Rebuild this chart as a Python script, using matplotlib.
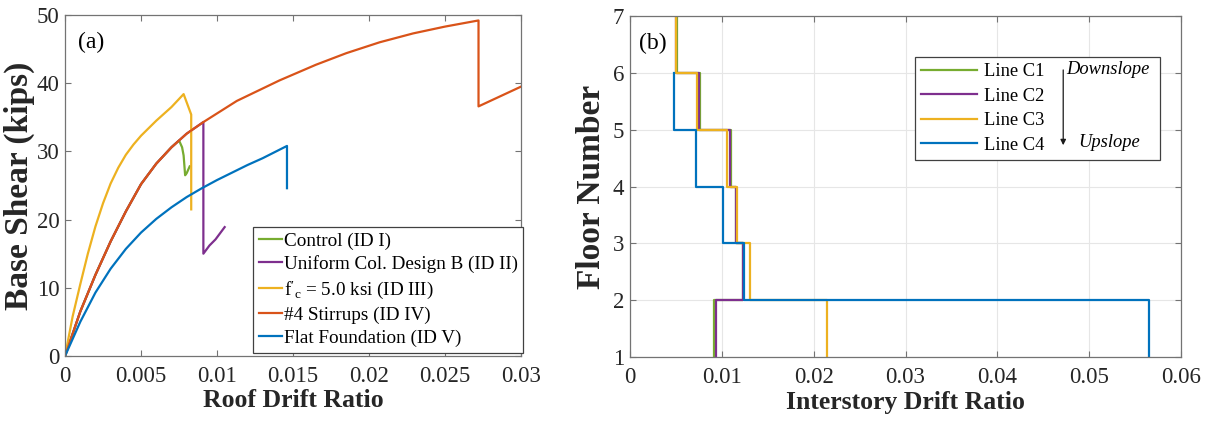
import matplotlib
matplotlib.use('Agg')
import matplotlib.pyplot as plt
import numpy as np

plt.rcParams['font.family'] = ['Liberation Serif', 'DejaVu Serif']
plt.rcParams['mathtext.fontset'] = 'custom'
plt.rcParams['mathtext.rm'] = 'Liberation Serif'
plt.rcParams['mathtext.it'] = 'Liberation Serif:italic'

# MATLAB default colours
c_green = '#77AC30'
c_purple = '#7E2F8E'
c_yellow = '#EDB120'
c_orange = '#D95319'
c_blue = '#0072BD'

# ---- (a) pushover curves: roof drift ratio vs base shear (kips)
ctrl_x = [0, 0.001, 0.002, 0.003, 0.004, 0.005, 0.006, 0.007, 0.0075, 0.0077, 0.0078, 0.0079, 0.0080, 0.0082]
ctrl_y = [0, 6.5, 11.9, 16.8, 21.2, 25.2, 28.2, 30.6, 31.6, 30.6, 29.4, 26.5, 26.8, 27.8]

unif_x = [0, 0.001, 0.002, 0.003, 0.004, 0.005, 0.006, 0.007, 0.008, 0.0091, 0.0091, 0.0095, 0.0099, 0.0102, 0.0105]
unif_y = [0, 6.5, 11.9, 16.8, 21.2, 25.2, 28.2, 30.6, 32.6, 34.3, 15.0, 16.2, 17.1, 18.0, 18.9]

fc_x = [0, 0.0005, 0.001, 0.0015, 0.002, 0.0025, 0.003, 0.0035, 0.004, 0.0045, 0.005, 0.006, 0.007, 0.0078, 0.0083, 0.0083]
fc_y = [0, 5.8, 10.5, 15.0, 19.0, 22.4, 25.3, 27.6, 29.5, 31.0, 32.3, 34.5, 36.5, 38.4, 35.4, 21.5]

stir_x = [0, 0.001, 0.002, 0.003, 0.004, 0.005, 0.006, 0.007, 0.008, 0.0091, 0.0113, 0.0141, 0.0165, 0.0185, 0.0207, 0.0229, 0.025, 0.0272, 0.0272, 0.030]
stir_y = [0, 6.5, 11.9, 16.8, 21.2, 25.2, 28.2, 30.6, 32.6, 34.3, 37.4, 40.4, 42.7, 44.4, 46.0, 47.3, 48.3, 49.2, 36.6, 39.5]

flat_x = [0, 0.001, 0.002, 0.003, 0.004, 0.005, 0.006, 0.007, 0.008, 0.009, 0.010, 0.011, 0.012, 0.013, 0.0146, 0.0146]
flat_y = [0, 5.0, 9.3, 12.8, 15.7, 18.1, 20.1, 21.8, 23.3, 24.6, 25.8, 26.9, 28.0, 29.0, 30.8, 24.6]

labels_a = ['Control (ID I)', 'Uniform Col. Design B (ID II)',
            r"$\mathrm{f'_c}$ = 5.0 ksi (ID III)", '#4 Stirrups (ID IV)',
            'Flat Foundation (ID V)']

# ---- (b) interstory drift ratio per story (story 1 = floor 1-2)
floors = [1, 2, 3, 4, 5, 6, 7]
c1_drift = [0.0092, 0.0123, 0.0116, 0.0110, 0.0076, 0.0051]
c2_drift = [0.0094, 0.0123, 0.0115, 0.0109, 0.0075, 0.0050]
c3_drift = [0.0215, 0.0131, 0.0117, 0.0106, 0.0073, 0.0050]
c4_drift = [0.0565, 0.0124, 0.0101, 0.0072, 0.0048]
labels_b = ['Line C1', 'Line C2', 'Line C3', 'Line C4']

fig = plt.figure(figsize=(12.09, 4.21), dpi=100)
ax1 = fig.add_axes([0.0538, 0.1544, 0.3772, 0.81])
ax2 = fig.add_axes([0.521, 0.1520, 0.456, 0.810])

spine_col = '0.45'
tick_col = '0.15'

lw = 1.6
ax1.plot(ctrl_x, ctrl_y, color=c_green, lw=lw, label=labels_a[0])
ax1.plot(unif_x, unif_y, color=c_purple, lw=lw, label=labels_a[1])
ax1.plot(fc_x, fc_y, color=c_yellow, lw=lw, label=labels_a[2])
ax1.plot(stir_x, stir_y, color=c_orange, lw=lw, label=labels_a[3])
ax1.plot(flat_x, flat_y, color=c_blue, lw=lw, label=labels_a[4])

ax1.set_xlim(0, 0.03)
ax1.set_ylim(0, 50)
ax1.set_xticks([0, 0.005, 0.01, 0.015, 0.02, 0.025, 0.03])
ax1.set_xticklabels(['0', '0.005', '0.01', '0.015', '0.02', '0.025', '0.03'])
ax1.set_yticks([0, 10, 20, 30, 40, 50])
ax1.set_xlabel('Roof Drift Ratio', fontsize=18.5, fontweight='bold', color='0.15', labelpad=2)
ax1.set_ylabel('Base Shear (kips)', fontsize=24, fontweight='bold', color='0.15', labelpad=1)
ax1.text(0.028, 0.918, '(a)', transform=ax1.transAxes, fontsize=17, va='center', ha='left')
leg1 = ax1.legend(loc='lower right', bbox_to_anchor=(1.005, 0.01), borderaxespad=0,
                  fontsize=13.8, handlelength=1.2, handletextpad=0.1, labelspacing=0.28,
                  borderpad=0.3, fancybox=False, framealpha=1, edgecolor='0.25')
leg1.get_frame().set_linewidth(0.9)

# step profiles: vertical over each story, horizontal at each floor
for vals, col, lab in [(c1_drift, c_green, labels_b[0]), (c2_drift, c_purple, labels_b[1]),
                       (c3_drift, c_yellow, labels_b[2]), (c4_drift, c_blue, labels_b[3])]:
    xs = list(vals) + [vals[-1]]
    ys = floors[:len(xs)]
    ax2.plot(xs, ys, drawstyle='steps-pre', color=col, lw=lw, label=lab)

ax2.set_xlim(0, 0.06)
ax2.set_ylim(1, 7)
ax2.set_xticks([0, 0.01, 0.02, 0.03, 0.04, 0.05, 0.06])
ax2.set_xticklabels(['0', '0.01', '0.02', '0.03', '0.04', '0.05', '0.06'])
ax2.set_yticks(floors)
ax2.grid(True, color='0.9', lw=0.8)
ax2.set_axisbelow(True)
ax2.set_xlabel('Interstory Drift Ratio', fontsize=18.5, fontweight='bold', color='0.15', labelpad=2)
ax2.set_ylabel('Floor Number', fontsize=24, fontweight='bold', color='0.15', labelpad=4)
ax2.text(0.016, 0.92, '(b)', transform=ax2.transAxes, fontsize=17, va='center', ha='left')
leg2 = ax2.legend(loc='upper left', bbox_to_anchor=(0.517, 0.592, 0.445, 0.288), mode='expand',
                  borderaxespad=0, fontsize=13.3, handlelength=3.0, handletextpad=0.4,
                  labelspacing=0.4, borderpad=0.35, fancybox=False, framealpha=1, edgecolor='0.25')
leg2.get_frame().set_linewidth(0.9)
ax2.annotate('', xy=(0.786, 0.613), xytext=(0.786, 0.85), xycoords='axes fraction',
             arrowprops=dict(arrowstyle='-|>', color='0.1', lw=0.9, mutation_scale=8), zorder=6)
ax2.text(0.791, 0.842, 'Downslope', transform=ax2.transAxes, fontsize=13.3, style='italic',
         ha='left', va='center', zorder=6)
ax2.text(0.869, 0.630, 'Upslope', transform=ax2.transAxes, fontsize=13.3, style='italic',
         ha='center', va='center', zorder=6)

for ax in (ax1, ax2):
    for s in ax.spines.values():
        s.set_color(spine_col)
        s.set_linewidth(0.9)
    ax.tick_params(direction='in', top=True, right=True, length=4, width=0.8,
                   color=spine_col, labelcolor=tick_col, labelsize=16.5)
    ax.tick_params(axis='x', pad=7)
    ax.tick_params(axis='y', pad=4)

fig.savefig('out.png', dpi=100)
plt.close()
